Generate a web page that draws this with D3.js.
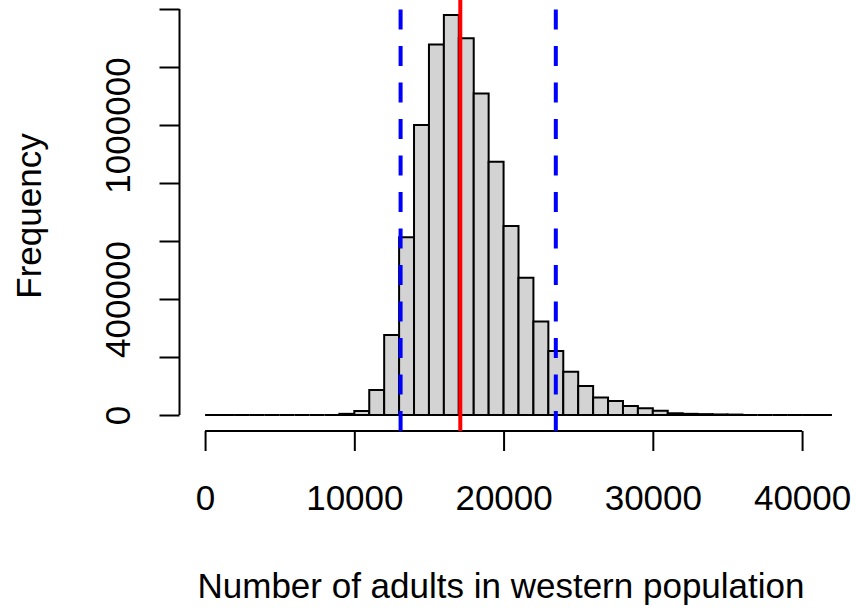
<!DOCTYPE html>
<html>
<head>
<meta charset="utf-8">
<script src="https://cdn.jsdelivr.net/npm/d3@7"></script>
<style>
  body { margin: 0; background: #fff; }
  text { font-family: "Liberation Sans", Arial, sans-serif; fill: #000; }
</style>
</head>
<body>
<div id="chart"></div>
<script>
// histogram bins (left edge) and counts, bin width 1000
var binWidth = 1000;
var binStarts = [0, 1000, 2000, 3000, 4000, 5000, 6000, 7000, 8000, 9000,
                 10000, 11000, 12000, 13000, 14000, 15000, 16000, 17000, 18000, 19000,
                 20000, 21000, 22000, 23000, 24000, 25000, 26000, 27000, 28000, 29000,
                 30000, 31000, 32000, 33000, 34000, 35000, 36000, 37000, 38000, 39000,
                 40000, 41000];
var counts = [0, 0, 0, 0, 0, 0, 0, 0, 0, 4000,
              14000, 86000, 276000, 613000, 1000000, 1278000, 1379000, 1299000, 1109000, 873000,
              652000, 473000, 322000, 221000, 149000, 100000, 60000, 48000, 31000, 23000,
              15000, 6000, 4000, 3000, 2000, 1500, 0, 0, 0, 0,
              0, 0];

var xTicks = [0, 10000, 20000, 30000, 40000];
var xTickLabels = ["0", "10000", "20000", "30000", "40000"];
var yTicks = [0, 200000, 400000, 600000, 800000, 1000000, 1200000, 1400000];
var yTickLabels = ["0", "", "400000", "", "", "1000000", "", ""];

// interval lines
var lowerCI = 13100;
var meanVal = 17100;
var upperCI = 23500;

var draw = function() {
  var width = 856, height = 608;
  var fs = 35;

  var svg = d3.select("#chart").append("svg")
      .attr("width", width)
      .attr("height", height);

  // R-style plot region: data range padded 4%
  var xMax = binStarts[binStarts.length - 1] + binWidth;
  var x = d3.scaleLinear()
      .domain([-0.04 * xMax, xMax * 1.04])
      .range([180, 857]);
  var y = d3.scaleLinear()
      .domain([0, 1400000])
      .range([415, 9]);
  var plotBottom = y(-0.04 * d3.max(counts));
  var plotTop = 0;

  // bars (paths so zero-height bins still draw a line)
  svg.append("g").selectAll("path")
    .data(binStarts)
    .enter()
    .append("path")
    .attr("d", function(d, i) {
      var x0 = x(d), x1 = x(d + binWidth), y0 = y(0), y1 = y(counts[i]);
      return "M" + x0 + "," + y0 + "H" + x1 + "V" + y1 + "H" + x0 + "Z";
    })
    .style("fill", "#d3d3d3")
    .style("stroke", "#000")
    .style("stroke-width", 2);

  // x axis
  var xAxis = svg.append("g")
      .attr("transform", "translate(0," + plotBottom + ")")
      .call(d3.axisBottom(x).tickValues(xTicks).tickSize(20).tickSizeOuter(0)
        .tickFormat(function(d, i) { return xTickLabels[i]; }));
  xAxis.select(".domain").remove();
  xAxis.append("line")
      .attr("x1", x(xTicks[0])).attr("x2", x(xTicks[xTicks.length - 1]))
      .attr("stroke", "#000").attr("stroke-width", 2);
  xAxis.selectAll(".tick line").attr("stroke-width", 2);
  xAxis.selectAll(".tick text")
      .attr("y", 510 - plotBottom)
      .attr("dy", 0)
      .style("font-size", fs + "px")
      .style("font-family", "'Liberation Sans', Arial, sans-serif");

  // y axis
  var yAxis = svg.append("g")
      .attr("transform", "translate(179.5,0)")
      .call(d3.axisLeft(y).tickValues(yTicks).tickSize(20).tickSizeOuter(0)
        .tickFormat(function(d, i) { return yTickLabels[i]; }));
  yAxis.select(".domain").remove();
  yAxis.append("line")
      .attr("y1", y(yTicks[0])).attr("y2", y(yTicks[yTicks.length - 1]))
      .attr("stroke", "#000").attr("stroke-width", 2);
  yAxis.selectAll(".tick line").attr("stroke-width", 2);
  yAxis.selectAll(".tick text")
      .attr("transform", "rotate(-90)")
      .attr("x", 0)
      .attr("y", -49.5)
      .attr("dy", 0)
      .attr("text-anchor", "middle")
      .style("font-size", fs + "px")
      .style("font-family", "'Liberation Sans', Arial, sans-serif");

  // vertical reference lines (drawn bottom to top like R)
  [lowerCI, upperCI].forEach(function(v) {
    svg.append("line")
      .attr("x1", x(v)).attr("x2", x(v))
      .attr("y1", plotBottom).attr("y2", plotTop)
      .attr("stroke", "#0000ff")
      .attr("stroke-width", 4)
      .attr("stroke-dasharray", "20,16.5");
  });
  svg.append("line")
    .attr("x1", x(meanVal)).attr("x2", x(meanVal))
    .attr("y1", plotBottom).attr("y2", plotTop)
    .attr("stroke", "#ff0000")
    .attr("stroke-width", 4);

  // axis titles
  svg.append("text")
    .attr("x", 501)
    .attr("y", 598)
    .attr("text-anchor", "middle")
    .style("font-size", fs + "px")
    .text("Number of adults in western population");

  svg.append("text")
    .attr("transform", "translate(41,216) rotate(-90)")
    .attr("text-anchor", "middle")
    .style("font-size", fs + "px")
    .text("Frequency");
};
draw();
</script>
</body>
</html>
